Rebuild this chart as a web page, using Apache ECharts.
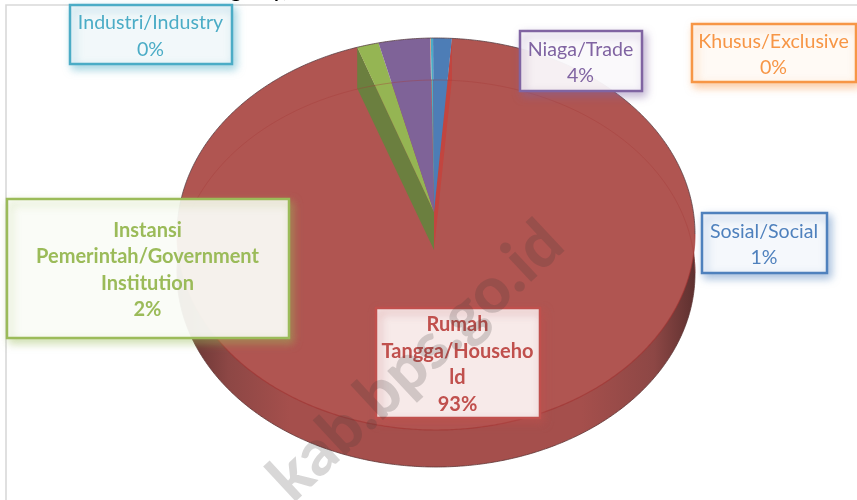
<!DOCTYPE html>
<html>
<head>
<meta charset="utf-8">
<style>html,body{margin:0;padding:0;background:#fff}#c{width:857px;height:500px}</style>
<script src="https://cdn.jsdelivr.net/npm/echarts@6/dist/echarts.min.js"></script>
</head>
<body>
<div id="c"></div>
<script>
// ---- data (clockwise from just left of 12 o'clock)
const categories = ['Khusus/Exclusive', 'Industri/Industry', 'Sosial/Social', 'Rumah\nTangga/Househo\nld', 'Instansi\nPemerintah/Government\nInstitution', 'Niaga/Trade'];
const sliceValues = [0.04, 0.14, 1.16, 94.1, 1.36, 3.2];
const percentLabels = ['0%', '0%', '1%', '93%', '2%', '4%'];
const edgeColors = ['#F79646', '#4BACC6', '#4F81BD', '#C0504D', '#9BBB59', '#8064A2'];
const faceColors = ['#F79646', '#4BACC6', '#4D7DB6', '#B05551', '#95B553', '#7F6398'];

// ---- layout (style only)
const startAngle = -1.3;
const TOP = {cx: 436, cy: 234, rx: 259, ry: 196};
const BASE = {cx: 436, cy: 273.5, rx: 259, ry: 193.5};
const APEX = {x: 434, y: 212};
const DEPTH = 38;
const boxes = [
  {x: 692, y: 24, w: 164, h: 58, fill: 'rgba(255,252,249,0.95)', bold: false},
  {x: 70, y: 5, w: 162, h: 59, fill: 'rgba(245,249,251,0.96)', bold: false},
  {x: 702, y: 213, w: 125, h: 60, fill: 'rgba(248,250,253,0.96)', bold: false},
  {x: 376, y: 308, w: 164, h: 110, fill: 'rgba(255,255,255,0.88)', bold: true},
  {x: 7, y: 199, w: 282, h: 139, fill: 'rgba(255,255,255,0.89)', bold: true},
  {x: 520, y: 31, w: 122, h: 60, fill: 'rgba(255,255,255,0.91)', bold: false}
];
const FONT = 'Lato, "Open Sans", sans-serif';
const LH = 26.4;

const total = sliceValues.reduce((a, b) => a + b, 0);
const angles = [];
sliceValues.reduce((acc, v, i) => { const e = acc + v / total * 360; angles[i] = [acc, e]; return e; }, startAngle);

function pt(e, deg) {
  const r = deg * Math.PI / 180;
  return [e.cx + e.rx * Math.sin(r), e.cy - e.ry * Math.cos(r)];
}
function arc(e, a, b) {
  const out = [], step = 0.5, n = Math.max(1, Math.ceil((b - a) / step));
  for (let k = 0; k <= n; k++) out.push(pt(e, a + (b - a) * k / n));
  return out;
}
function cutWall(deg, fill, z2) {
  const p = pt(TOP, deg);
  return {type: 'polygon', z2, silent: true,
    shape: {points: [p, [p[0], p[1] + DEPTH + 3], [APEX.x, APEX.y + DEPTH], [APEX.x, APEX.y]]},
    style: {fill}};
}
function renderSlice(params, api) {
  const i = api.value(0), a = angles[i][0], b = angles[i][1];
  const children = [{
    type: 'polygon', z2: i === 3 ? 10 : 30, silent: true,
    shape: {points: [[APEX.x, APEX.y]].concat(arc(TOP, a, b))},
    style: {fill: faceColors[i]}
  }];
  if (i === 3) {
    // body of the pie: lower rim, with the shading of the 3-D side wall
    children.push({
      type: 'polygon', z2: 5, silent: true,
      shape: {points: arc(BASE, 0, 360)},
      style: {
        fill: new echarts.graphic.LinearGradient(0, 0, 1, 0, [
          {offset: 0, color: '#5d302f'}, {offset: 0.1, color: '#8d4745'},
          {offset: 0.22, color: '#A54F4C'}, {offset: 0.78, color: '#A54F4C'},
          {offset: 0.92, color: '#8d4745'}, {offset: 1, color: '#5d302f'}]),
        stroke: 'rgba(90,50,50,0.75)', lineWidth: 1
      }
    });
    children.push(cutWall(b, '#6B7F3F', 20));   // exposed face beside the green slice
    children.push(cutWall(a, '#C2453F', 20));   // exposed face beside the blue slice
    children.push({type: 'polyline', z2: 40, silent: true,
      shape: {points: arc(TOP, 90, 270)},
      style: {fill: 'none', stroke: 'rgba(160,50,48,0.6)', lineWidth: 1.2}});
    children.push({type: 'polyline', z2: 40, silent: true,
      shape: {points: arc(BASE, -90, 90)},
      style: {fill: 'none', stroke: 'rgba(165,60,58,0.4)', lineWidth: 1}});
    children.push({type: 'polyline', z2: 41, silent: true,
      shape: {points: arc(TOP, -90, 90)},
      style: {fill: 'none', stroke: 'rgba(90,65,70,0.8)', lineWidth: 1}});
  }
  return {type: 'group', children};
}
function renderLabel(params, api) {
  const i = api.value(0), bx = boxes[i], c = edgeColors[i];
  return {type: 'group', children: [
    {type: 'rect', z2: 50, silent: true,
      shape: {x: bx.x, y: bx.y, width: bx.w, height: bx.h},
      style: {fill: bx.fill, stroke: c, lineWidth: 2.5,
        shadowBlur: 8, shadowOffsetX: 3, shadowOffsetY: 4, shadowColor: echarts.color.modifyAlpha(c, 0.5)}},
    {type: 'text', z2: 51, silent: true,
      style: {text: categories[i] + '\n' + percentLabels[i],
        x: bx.x + bx.w / 2 - 0.5, y: bx.y + bx.h / 2 + 1.5, align: 'center', verticalAlign: 'middle',
        fill: c, font: (bx.bold ? 'bold 20px ' : '19.6px ') + FONT, lineHeight: LH}}
  ]};
}

const chart = echarts.init(document.getElementById('c'), null, {renderer: 'canvas'});
const rows = categories.map((c, i) => [i, sliceValues[i]]);
chart.setOption({
  animation: false,
  backgroundColor: '#fff',
  tooltip: {show: false},
  xAxis: {show: false}, yAxis: {show: false},
  graphic: [
    {type: 'polyline', silent: true, z: 1, shape: {points: [[6, 500], [6, 5], [857, 5]]},
      style: {fill: 'none', stroke: '#D9D9D9', lineWidth: 1.6}},
    {type: 'text', silent: true, z: 1, style: {text: 'Agency),', x: 293, y: 1, align: 'right', verticalAlign: 'bottom',
      fill: '#000', font: 'bold 20px ' + FONT}},
    {type: 'text', silent: true, z: 100, x: 416, y: 361, rotation: 43 * Math.PI / 180,
      style: {text: 'kab.bps.go.id', x: 0, y: 0, align: 'center', verticalAlign: 'middle',
        fill: 'rgba(60,55,55,0.2)', font: '900 64px ' + FONT}}
  ],
  series: [
    {type: 'custom', name: 'slices', coordinateSystem: 'none', renderItem: renderSlice, data: rows, z: 2, clip: false},
    {type: 'custom', name: 'labels', coordinateSystem: 'none', renderItem: renderLabel, data: rows, z: 3, clip: false}
  ]
});
</script>
</body>
</html>
